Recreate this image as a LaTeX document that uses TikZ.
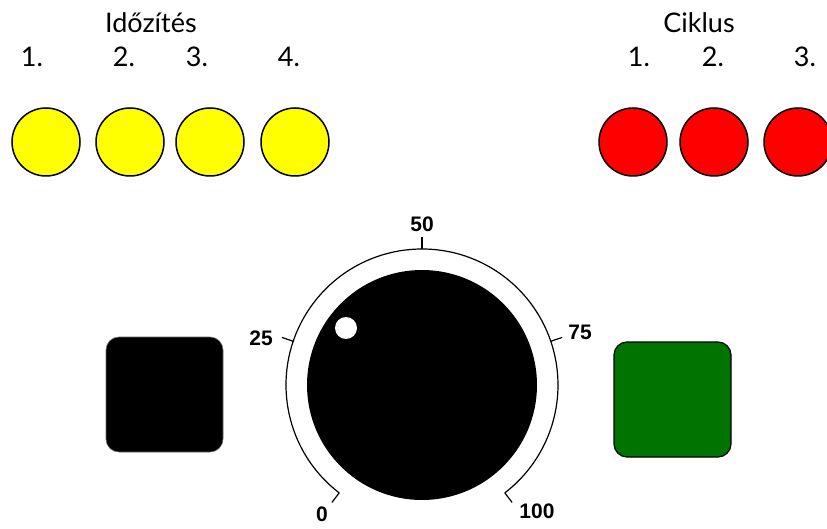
\documentclass[tikz,border=0pt]{standalone}
\usepackage{fontspec}
\setmainfont{Lato}
\newfontfamily\dialfont{Liberation Sans}
\usetikzlibrary{calc}
\definecolor{lampyellow}{RGB}{255,255,0}
\definecolor{lampred}{RGB}{255,0,0}
\definecolor{startgreen}{RGB}{0,115,0}

\tikzset{
  lamp/.style={circle, draw=black, line width=1.5pt, minimum size=68pt, inner sep=0pt},
  title/.style={font=\fontsize{27}{30}\selectfont, anchor=base},
  num/.style={font=\fontsize{27}{30}\selectfont, anchor=base},
  pushbtn/.style={rectangle, rounded corners=13pt, minimum width=117pt, minimum height=115pt, inner sep=0pt},
  dialnum/.style={font=\dialfont\bfseries\fontsize{21}{21}\selectfont, inner sep=1pt}
}

\begin{document}
\begin{tikzpicture}[x=1pt, y=1pt]
  \useasboundingbox (0,0) rectangle (827,528);
  \def\ly{386}\def\ny{461}

  % Idozites lamps
  \node[title] (idotitle) at (151,495) {Időzítés};
  \foreach \i/\nx/\cx in {1/32/46, 2/124/130, 3/197/210, 4/289/295} {
    \node[num] (idonum\i) at (\nx,\ny) {\i.};
    \node[lamp, fill=lampyellow] (ido\i) at (\cx,\ly) {};
  }

  % Ciklus lamps
  \node[title] (cikltitle) at (699,495) {Ciklus};
  \foreach \i/\nx/\cx in {1/639/633, 2/713/714, 3/805/798} {
    \node[num] (ciklnum\i) at (\nx,\ny) {\i.};
    \node[lamp, fill=lampred] (cikl\i) at (\cx,\ly) {};
  }

  % knob with scale
  \node[circle, fill=black, minimum size=230pt, inner sep=0pt] (knob) at (422,143) {};
  \node[circle, fill=white, minimum size=22pt, inner sep=0pt] (mark) at (346,200) {};
  \draw[line width=1.2pt] ($(knob.center)+(232.5:136)$) arc[start angle=232.5, end angle=-52.5, radius=136];
  \foreach \a in {232.5, 161.25, 90, 18.75, -52.5}
    \draw[line width=1.2pt] ($(knob.center)+(\a:136)$) -- ($(knob.center)+(\a:148)$);
  \foreach \v/\x/\y in {0/322/14, 25/261/190, 50/422/304, 75/580/196, 100/537/17}
    \node[dialnum] (dial\v) at (\x,\y) {\v};

  % buttons
  \node[pushbtn, fill=black, draw=black!60, line width=0.6pt] (stopbtn) at (164.5,133.5) {};
  \node[pushbtn, fill=startgreen, draw=black, line width=1.2pt] (startbtn) at (672.5,128.5) {};

\end{tikzpicture}
\end{document}
